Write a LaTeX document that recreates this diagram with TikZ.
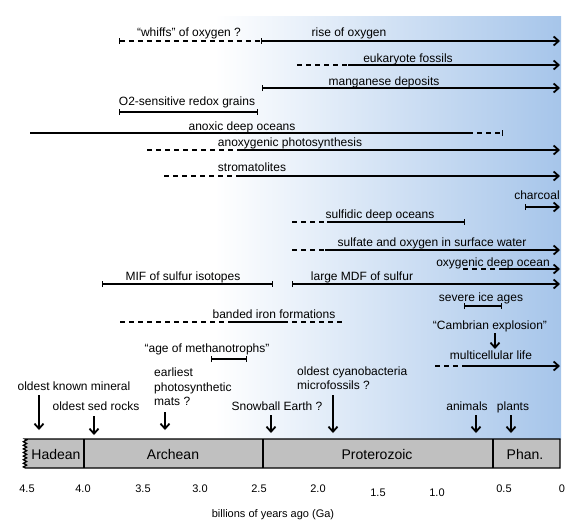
\documentclass[tikz,border=0pt]{standalone}
\usepackage{fontspec}
\setmainfont{Liberation Sans}
\usetikzlibrary{arrows.meta,decorations.pathmorphing}
\definecolor{skyblue}{RGB}{166,197,234}
\definecolor{eongray}{RGB}{192,192,192}

\begin{document}
\begin{tikzpicture}[x=1pt,y=-1pt,
        >={Straight Barb[length=5pt,width=9pt,line width=1.8pt]},
        stop/.tip={Bar[width=6pt,line width=1.2pt]},
        every node/.style={inner sep=0pt,anchor=base,font=\fontsize{12}{14}\selectfont},
        lane/.style={line width=1.3pt},
        hint/.style={line width=1.3pt,dash pattern=on 5pt off 4pt},
        pointer/.style={line width=1.3pt,->},
        eon/.style={fill=eongray,draw=black,line width=1.3pt},
        eonname/.style={font=\fontsize{14}{16}\selectfont},
        scale label/.style={font=\fontsize{11}{13}\selectfont}
        ]
    \useasboundingbox (0,0) rectangle (576,523);
    \shade[left color=white,right color=skyblue] (215,16) rectangle (561,439);

    \node (whiffs) at (189,36) {“whiffs” of oxygen ?};
    \node (rise) at (349,36) {rise of oxygen};
    \draw[hint,stop-stop] (119,41) -- (262,41);
    \draw[lane,->] (262,41) -- (560,41);

    \node (eukaryote) at (408,62) {eukaryote fossils};
    \draw[hint] (297,65) -- (348,65);
    \draw[lane,->] (348,65) -- (560,65);

    \node (manganese) at (384,85) {manganese deposits};
    \draw[lane,stop->] (262,88) -- (560,88);

    \node (grains) at (187,105) {O2-sensitive redox grains};
    \draw[lane,stop-stop] (119,112) -- (258,112);

    \node (anoxic) at (242,130) {anoxic deep oceans};
    \draw[lane] (30,133) -- (468,133);
    \draw[hint,-stop] (468,133) -- (503,133);

    \node (anoxygenic) at (290,146) {anoxygenic photosynthesis};
    \draw[hint] (147,150) -- (242,150);
    \draw[lane,->] (242,150) -- (560,150);

    \node (stromatolites) at (252,171) {stromatolites};
    \draw[hint] (164,176) -- (238,176);
    \draw[lane,->] (238,176) -- (560,176);

    \node (charcoal) at (537,199) {charcoal};
    \draw[lane,stop->] (525,207) -- (560,207);

    \node (sulfidic) at (380,218) {sulfidic deep oceans};
    \draw[hint] (292,222) -- (327,222);
    \draw[lane,-stop] (327,222) -- (465,222);

    \node (sulfate) at (432,246) {sulfate and oxygen in surface water};
    \draw[hint] (292,250) -- (325,250);
    \draw[lane,->] (325,250) -- (560,250);

    \node (oxygenic) at (493,266) {oxygenic deep ocean};
    \draw[hint] (463,269) -- (502,269);
    \draw[lane,->] (502,269) -- (560,269);

    \node (mif) at (183,280) {MIF of sulfur isotopes};
    \draw[lane,stop-stop] (102,284) -- (273,284);
    \node (mdf) at (362,280) {large MDF of sulfur};
    \draw[lane,stop->] (292,284) -- (560,284);

    \node (ice) at (481,301) {severe ice ages};
    \draw[lane,stop-stop] (464,306) -- (502,306);

    \node (bif) at (274,318) {banded iron formations};
    \draw[hint] (120,322) -- (233,322);
    \draw[lane] (233,322) -- (283,322);
    \draw[hint] (283,322) -- (343,322);

    \node (cambrian) at (490,329) {“Cambrian explosion”};
    \draw[pointer] (495,333) -- (495,349);

    \node (methanotrophs) at (207,352) {“age of methanotrophs”};
    \draw[lane,stop-stop] (211,359) -- (247,359);

    \node (multicellular) at (491,359) {multicellular life};
    \draw[hint] (435,366) -- (462,366);
    \draw[lane,->] (462,366) -- (560,366);

    \node[anchor=north west,align=left,font=\fontsize{12}{14.5}\selectfont] (mats) at (154,368)
        {earliest\\photosynthetic\\mats ?};
    \draw[pointer] (165,412) -- (165,430);

    \node[anchor=north west,align=left,font=\fontsize{12}{13.5}\selectfont] (cyano) at (297,367)
        {oldest cyanobacteria\\microfossils ?};
    \draw[pointer] (333,395) -- (333,433);

    \node (mineral) at (74,390) {oldest known mineral};
    \draw[pointer] (39,395) -- (39,430);
    \node (sed) at (96,410) {oldest sed rocks};
    \draw[pointer] (94,416) -- (94,435);
    \node (snowball) at (277,410) {Snowball Earth ?};
    \draw[pointer] (271,415) -- (271,433);
    \node (animals) at (467,410) {animals};
    \draw[pointer] (476,415) -- (476,433);
    \node (plants) at (513,410) {plants};
    \draw[pointer] (511,415) -- (511,433);

    \draw[eon] (25,468) -- (560,468) -- (560,439) -- (25,439)
        decorate[decoration={zigzag,segment length=3.6pt,amplitude=1.6pt}] {-- (25,468)} -- cycle;
    \draw[line width=1.6pt] (84,439) -- (84,468);
    \draw[line width=1.6pt] (263,439) -- (263,468);
    \draw[line width=1.6pt] (493,439) -- (493,468);
    \node[eonname] (hadean) at (56,459) {Hadean};
    \node[eonname] (archean) at (173,459) {Archean};
    \node[eonname] (proterozoic) at (377,459) {Proterozoic};
    \node[eonname] (phan) at (525,459) {Phan.};

    \node[scale label] (t45) at (27,492) {4.5};
    \node[scale label] (t40) at (83,492) {4.0};
    \node[scale label] (t35) at (143,492) {3.5};
    \node[scale label] (t30) at (200,492) {3.0};
    \node[scale label] (t25) at (259,492) {2.5};
    \node[scale label] (t20) at (318,492) {2.0};
    \node[scale label] (t15) at (378,496) {1.5};
    \node[scale label] (t10) at (437,496) {1.0};
    \node[scale label] (t05) at (504,492) {0.5};
    \node[scale label] (t00) at (562,492) {0};
    \node[scale label] (ga) at (273,517) {billions of years ago (Ga)};
\end{tikzpicture}
\end{document}
